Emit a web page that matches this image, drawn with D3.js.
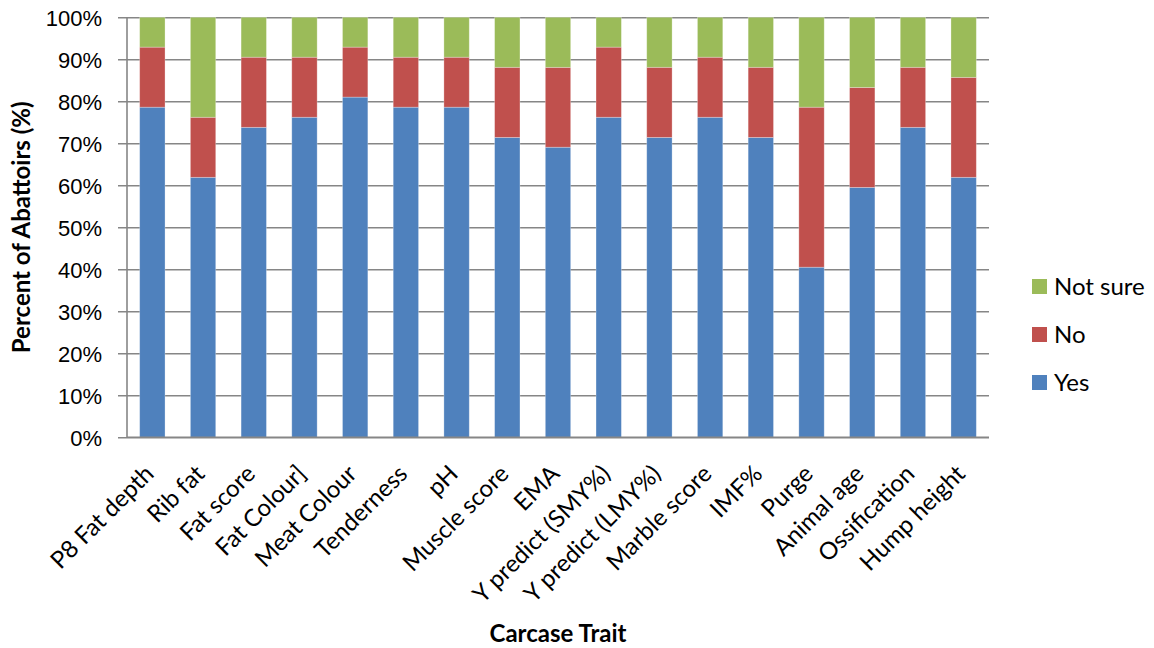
<!DOCTYPE html>
<html>
<head>
<meta charset="utf-8">
<script src="https://cdn.jsdelivr.net/npm/d3@7"></script>
<style>
  html, body { margin: 0; padding: 0; background: #fff; }
  svg { display: block; font-family: Lato, "Open Sans", sans-serif; }
</style>
</head>
<body>
<svg id="chart" width="1154" height="648"></svg>
<script>
// Carcase traits measured by abattoirs (percent of respondents)
const categories = [
  "P8 Fat depth", "Rib fat", "Fat score", "Fat Colour]", "Meat Colour",
  "Tenderness", "pH", "Muscle score", "EMA", "Y predict (SMY%)",
  "Y predict (LMY%)", "Marble score", "IMF%", "Purge", "Animal age",
  "Ossification", "Hump height"
];
const yes     = [78.6, 61.9, 73.8, 76.2, 81.0, 78.6, 78.6, 71.4, 69.0, 76.2, 71.4, 76.2, 71.4, 40.5, 59.5, 73.8, 61.9];
const no      = [14.3, 14.3, 16.7, 14.3, 11.9, 11.9, 11.9, 16.7, 19.0, 16.7, 16.7, 14.3, 16.7, 38.1, 23.8, 14.3, 23.8];
const notSure = [ 7.1, 23.8,  9.5,  9.5,  7.1,  9.5,  9.5, 11.9, 11.9,  7.1, 11.9,  9.5, 11.9, 21.4, 16.7, 11.9, 14.3];

const seriesNames = ["Yes", "No", "Not sure"];
const seriesColors = ["#4F81BD", "#C0504D", "#9BBB59"];
const yTicks = [0, 0.1, 0.2, 0.3, 0.4, 0.5, 0.6, 0.7, 0.8, 0.9, 1];

const rows = categories.map((c, i) => ({ cat: c, "Yes": yes[i], "No": no[i], "Not sure": notSure[i] }));

const svg = d3.select("#chart");
const plot = { left: 127, right: 989, top: 17.3, bottom: 437.3 };

const x = d3.scaleBand().domain(categories).range([plot.left, plot.right]).paddingInner(0.5).paddingOuter(0.25);
const y = d3.scaleLinear().domain([0, 1]).range([plot.bottom, plot.top]);
const color = d3.scaleOrdinal().domain(seriesNames).range(seriesColors);

// 100% stacked layout
const stacked = d3.stack().keys(seriesNames).offset(d3.stackOffsetExpand)(rows);

// horizontal gridlines with left tick marks
const yAxis = d3.axisLeft(y).tickValues(yTicks).tickFormat(d3.format(".0%"))
  .tickSize(-(plot.right - plot.left)).tickPadding(25);
const gy = svg.append("g").attr("transform", `translate(${plot.left},0)`).call(yAxis);
gy.select(".domain").remove();
gy.selectAll(".tick line").attr("stroke", "#868686").attr("stroke-width", 1.6).attr("x1", -9);
gy.selectAll(".tick text").attr("fill", "#000").attr("font-size", 22).attr("dy", "0.35em");

// left axis line
svg.append("line").attr("x1", plot.left).attr("x2", plot.left)
  .attr("y1", plot.top).attr("y2", plot.bottom)
  .attr("stroke", "#868686").attr("stroke-width", 1.6);

// bars
svg.append("g").selectAll("g").data(stacked).join("g")
  .attr("fill", d => color(d.key))
  .selectAll("rect").data(d => d).join("rect")
  .attr("x", d => x(d.data.cat))
  .attr("width", x.bandwidth())
  .attr("y", d => y(d[1]))
  .attr("height", d => y(d[0]) - y(d[1]))
  .attr("stroke", "rgba(255,255,255,0.35)")
  .attr("stroke-width", 0.8);

// bottom axis line
svg.append("line").attr("x1", plot.left).attr("x2", plot.right)
  .attr("y1", plot.bottom).attr("y2", plot.bottom)
  .attr("stroke", "#868686").attr("stroke-width", 1.6);

// rotated category labels
svg.append("g").selectAll("text").data(categories).join("text")
  .attr("transform", d => `translate(${x(d) + x.bandwidth() / 2 + 3},${plot.bottom + 38}) rotate(-45)`)
  .attr("text-anchor", "end")
  .attr("font-size", 24)
  .attr("fill", "#000")
  .text(d => d);

// axis titles
svg.append("text")
  .attr("transform", `translate(30,${(plot.top + plot.bottom) / 2}) rotate(-90)`)
  .attr("text-anchor", "middle").attr("font-size", 24).attr("font-weight", "bold")
  .text("Percent of Abattoirs (%)");
svg.append("text")
  .attr("x", 558).attr("y", 642)
  .attr("text-anchor", "middle").attr("font-size", 24).attr("font-weight", "bold")
  .text("Carcase Trait");

// legend (top to bottom: Not sure, No, Yes)
const legendItems = seriesNames.slice().reverse();
const lg = svg.append("g").selectAll("g").data(legendItems).join("g")
  .attr("transform", (d, i) => `translate(1032,${279 + i * 48})`);
lg.append("rect").attr("width", 15).attr("height", 15).attr("fill", d => color(d));
lg.append("text").attr("x", 22).attr("y", 8).attr("dy", "0.35em")
  .attr("font-size", 24).attr("fill", "#000").text(d => d);
</script>
</body>
</html>
